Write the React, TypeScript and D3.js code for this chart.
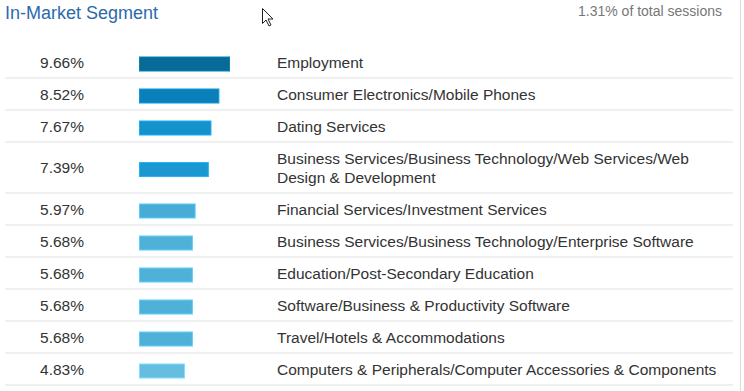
import React from "react";
import * as d3 from "d3";

const segments = [
  "Employment",
  "Consumer Electronics/Mobile Phones",
  "Dating Services",
  "Business Services/Business Technology/Web Services/Web Design & Development",
  "Financial Services/Investment Services",
  "Business Services/Business Technology/Enterprise Software",
  "Education/Post-Secondary Education",
  "Software/Business & Productivity Software",
  "Travel/Hotels & Accommodations",
  "Computers & Peripherals/Computer Accessories & Components",
];
const shares = [9.66, 8.52, 7.67, 7.39, 5.97, 5.68, 5.68, 5.68, 5.68, 4.83];
const title = "In-Market Segment";
const subtitle = "1.31% of total sessions";

const W = 744;
const H = 391;
const FONT = "'Liberation Sans', Arial, sans-serif";
const FS = 15.5;
const labelX = 277;
const labelMax = 456;
const baseRow = 32;
const lineH = 19;

// crude word wrap using canvas text metrics
function wrap(text: string, maxW: number): string[] {
  const ctx = document.createElement("canvas").getContext("2d")!;
  ctx.font = FS + "px 'Liberation Sans', Arial";
  const words = text.split(" ");
  const lines: string[] = [];
  let cur = "";
  words.forEach((w) => {
    const t = cur ? cur + " " + w : w;
    if (ctx.measureText(t).width > maxW && cur) {
      lines.push(cur);
      cur = w;
    } else cur = t;
  });
  if (cur) lines.push(cur);
  return lines;
}

export default function App() {
  const x = d3.scaleLinear().domain([0, d3.max(shares)!]).range([0, 90]);
  const color = d3
    .scaleLinear<string>()
    .domain([4.83, 5.68, 5.97, 7.39, 7.67, 8.52, 9.66])
    .range(["#67bde0", "#4fb0d8", "#48acd7", "#1b98d0", "#1492cc", "#0a80ba", "#076a99"]);

  const wrapped = segments.map((s) => wrap(s, labelMax));
  let top = 46;
  const rows = wrapped.map((lines, i) => {
    const h = baseRow + (lines.length - 1) * lineH;
    const r = { lines, top, h, cy: top + h / 2, v: shares[i] };
    top += h;
    return r;
  });

  return (
    <div style={{ position: "absolute", left: 0, top: 0 }}>
      <svg width={W} height={H} style={{ display: "block", background: "#fff" }} fontFamily={FONT}>
        <line x1={740.5} x2={740.5} y1={0} y2={H} stroke="#dcdcdc" />
        <text x={5} y={19} fontSize={18} fill="#2a6aad">{title}</text>
        <text x={722} y={16} fontSize={14} fill="#777" textAnchor="end">{subtitle}</text>

        {rows.map((r, i) => (
          <g key={i}>
            <text x={84} y={r.cy + 5.5} fontSize={FS} fill="#333" textAnchor="end">
              {d3.format(".2f")(r.v) + "%"}
            </text>
            <rect
              x={139.5}
              y={r.cy - 5}
              width={x(r.v)}
              height={14}
              fill={color(r.v)}
              stroke={d3.color(color(r.v))!.brighter(0.5).formatHex()}
              strokeWidth={1}
            />
            <text fontSize={FS} fill="#333">
              {r.lines.map((l, j) => (
                <tspan key={j} x={labelX} y={r.cy + 5.5 + (j - (r.lines.length - 1) / 2) * lineH}>
                  {l}
                </tspan>
              ))}
            </text>
            <line x1={5} x2={733} y1={r.top + r.h} y2={r.top + r.h} stroke="#ebebeb" strokeWidth={1.5} />
          </g>
        ))}

        {/* mouse pointer visible in the screenshot */}
        <path
          d="M0,0 L0,15 L3.5,11.5 L6.5,17.5 L8.5,16.5 L5.5,10.5 L10.5,10.5 Z"
          transform="translate(262.5,8.5)"
          fill="#fff"
          stroke="#222"
          strokeWidth={1}
        />
      </svg>
    </div>
  );
}
